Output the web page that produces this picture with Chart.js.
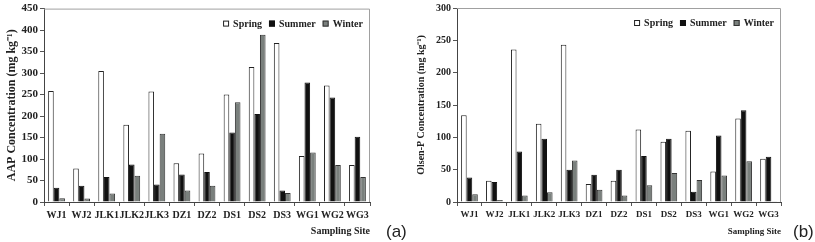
<!DOCTYPE html>
<html>
<head>
<meta charset="utf-8">
<script src="https://cdn.jsdelivr.net/npm/chart.js@4.4.0/dist/chart.umd.min.js"></script>
<style>
  body { margin: 0; background: #fff; }
  #wrap { position: relative; width: 815px; height: 242px; }
  .box { position: absolute; top: 0; height: 242px; }
  .tag { position: absolute; font-family: "Liberation Sans", Arial, sans-serif; font-size: 17px; color: #222; }
</style>
</head>
<body>
<div id="wrap">
  <div class="box" style="left:0;width:375px"><canvas id="chartA"></canvas></div>
  <div class="box" style="left:400px;width:385px"><canvas id="chartB"></canvas></div>
  <div class="tag" style="left:386px;top:222px">(a)</div>
  <div class="tag" style="left:793px;top:222px">(b)</div>
</div>
<script>
const sites = ['WJ1', 'WJ2', 'JLK1', 'JLK2', 'JLK3', 'DZ1', 'DZ2', 'DS1', 'DS2', 'DS3', 'WG1', 'WG2', 'WG3'];

// (a) AAP concentration
const aapSpring = [258, 78, 305, 180, 257, 90, 113, 250, 314, 370, 107, 271, 86];
const aapSummer = [33, 38, 58, 87, 41, 64, 70, 162, 205, 27, 278, 243, 152];
const aapWinter = [9, 8, 20, 61, 159, 27, 38, 232, 389, 21, 115, 86, 58];

// (b) Olsen-P concentration
const olsenSpring = [134, 33, 236, 121, 243, 28, 33, 112, 93, 110, 47, 129, 67];
const olsenSummer = [38, 31, 78, 98, 50, 42, 50, 71, 98, 16, 103, 142, 70];
const olsenWinter = [12, 3, 10, 15, 64, 19, 10, 26, 45, 34, 41, 63, 1];

const serif = 'Liberation Serif';

// grey frame on top/right + legend inside the plot, top right
const frame = {
  id: 'frame',
  beforeDatasetsDraw(chart) {
    const a = chart.chartArea, c = chart.ctx;
    c.save();
    c.strokeStyle = '#a0a0a0';
    c.lineWidth = 1;
    c.beginPath();
    c.moveTo(a.left, a.top + 0.5);
    c.lineTo(a.right - 0.5, a.top + 0.5);
    c.lineTo(a.right - 0.5, a.bottom);
    c.stroke();
    c.restore();
  },
  afterDraw(chart) {
    const a = chart.chartArea, c = chart.ctx;
    const sets = chart.data.datasets;
    c.save();
    c.font = 'bold 10px "' + serif + '"';
    c.textBaseline = 'middle';
    const box = 6, gap = 4, space = 7;
    let total = 0;
    sets.forEach((d, i) => { total += box + gap + c.measureText(d.label).width + (i ? space : 0); });
    let x = a.right - 7 - total;
    const y = a.top + 15;
    sets.forEach(d => {
      c.fillStyle = d.backgroundColor;
      c.fillRect(x, y - box / 2, box, box);
      c.strokeStyle = d.borderColor;
      c.lineWidth = 1;
      c.strokeRect(x + 0.5, y - box / 2 + 0.5, box - 1, box - 1);
      x += box + gap;
      c.fillStyle = '#222';
      c.fillText(d.label, x, y + 0.5);
      x += c.measureText(d.label).width + space;
    });
    c.restore();
  }
};

function makeChart(id, spring, summer, winter, yMax, yTitle, opt) {
  new Chart(document.getElementById(id), {
    type: 'bar',
    data: {
      labels: sites,
      datasets: [
        { label: 'Spring', data: spring, backgroundColor: '#ffffff', borderColor: '#222', borderWidth: 1 },
        { label: 'Summer', data: summer, backgroundColor: '#111111', borderColor: '#111', borderWidth: 1 },
        { label: 'Winter', data: winter, backgroundColor: '#7a807d', borderColor: '#333', borderWidth: 1 }
      ]
    },
    options: {
      responsive: true,
      maintainAspectRatio: false,
      animation: false,
      categoryPercentage: 0.67,
      barPercentage: 1.0,
      layout: { padding: { top: 7, right: opt.padRight, left: 0, bottom: 0 } },
      plugins: {
        tooltip: { enabled: false },
        legend: { display: false }
      },
      scales: {
        x: {
          grid: { display: true, drawOnChartArea: false, offset: true, tickLength: 4, color: '#555' },
          border: { color: '#444' },
          ticks: { color: '#222', padding: 3, maxRotation: 0, autoSkip: false,
                   font: { family: serif, weight: 'bold', size: opt.tickSize } },
          title: { display: true, text: 'Sampling Site', align: 'end', color: '#222',
                   padding: { top: 0, bottom: 5 },
                   font: { family: serif, weight: 'bold', size: opt.tickSize } },
          afterFit(s) { s.height = 40; }
        },
        y: {
          min: 0,
          max: yMax,
          grid: { display: true, drawOnChartArea: false, tickLength: 4, color: '#555' },
          border: { color: '#444' },
          ticks: { stepSize: 50, color: '#222', padding: 2,
                   font: { family: serif, weight: 'bold', size: opt.tickSize + 1 } },
          title: { display: true, text: yTitle, color: '#222', padding: { top: opt.titlePad, bottom: 0 },
                   font: { family: serif, weight: 'bold', size: opt.titleSize } },
          afterFit(s) { s.width = opt.yWidth; }
        }
      }
    },
    plugins: [frame]
  });
}

makeChart('chartA', aapSpring, aapSummer, aapWinter, 450, 'AAP Concentration (mg kg\u207B\u00B9)',
  { padRight: 5, yWidth: 44, tickSize: 10, titleSize: 12, titlePad: 5 });
makeChart('chartB', olsenSpring, olsenSummer, olsenWinter, 300, 'Olsen-P Concentration (mg kg\u207B\u00B9)',
  { padRight: 4, yWidth: 57, tickSize: 9, titleSize: 10, titlePad: 15 });
</script>
</body>
</html>
